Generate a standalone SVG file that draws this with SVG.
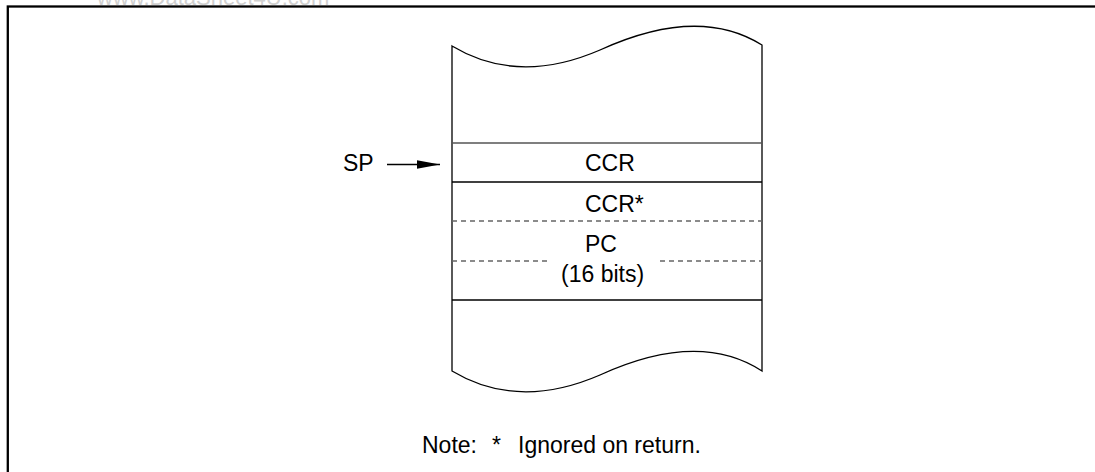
<svg xmlns="http://www.w3.org/2000/svg" width="1095" height="472" viewBox="0 0 1095 472">
<style>
.t{font-family:"Liberation Sans",Arial,sans-serif;font-size:23px;fill:#000}
.ln{stroke:#000;stroke-width:1.3;fill:none}
.ds{stroke:#666;stroke-width:1.3;stroke-dasharray:5 4;fill:none}
</style>
<defs>
<marker id="ah" markerWidth="24" markerHeight="10" refX="23" refY="5" orient="auto" markerUnits="userSpaceOnUse">
<path d="M0,0.8 L23,5 L0,9.2 Z" fill="#000"/>
</marker>
</defs>
<rect width="1095" height="472" fill="#fff"/>
<text x="97" y="5" class="t" style="fill:#d0d0d0;font-size:22px">www.DataSheet4U.com</text>
<rect x="7.8" y="6.5" width="1120" height="500" fill="none" stroke="#000" stroke-width="2.3"/>
<g id="stack">
<path class="ln" d="M452,46 C492,70 540,76 600,50 C670,18 722,20 762,45 L762,371 C722,345 670,343 600,375 C540,401 492,395 452,371 Z" fill="#fff"/>
<line x1="452" y1="143" x2="762" y2="143" stroke="#555" stroke-width="1.3"/>
<line class="ln" x1="452" y1="182" x2="762" y2="182"/>
<line class="ds" x1="452" y1="221" x2="762" y2="221"/>
<line class="ds" x1="452" y1="261" x2="549" y2="261"/>
<line class="ds" x1="660" y1="261" x2="762" y2="261"/>
<line class="ln" x1="452" y1="300" x2="762" y2="300"/>
</g>
<g id="ccr"><text x="585" y="171" class="t">CCR</text></g>
<g id="ccr2"><text x="585" y="212" class="t">CCR*</text></g>
<g id="pc"><text x="585" y="252" class="t">PC</text><text x="561" y="282" class="t">(16 bits)</text></g>
<g id="sp"><text x="343" y="171" class="t">SP</text></g>
<g id="connectors">
<line x1="387" y1="164.5" x2="440" y2="164.5" stroke="#000" stroke-width="1.3" marker-end="url(#ah)"/>
</g>
<g id="note"><text y="453" class="t"><tspan x="422">Note:</tspan><tspan x="492">*</tspan><tspan x="518">Ignored on return.</tspan></text></g>
</svg>
